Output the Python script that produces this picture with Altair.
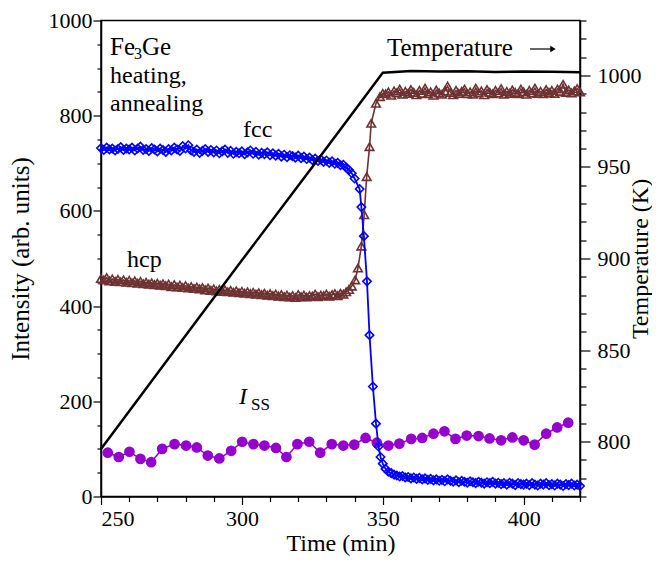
import altair as alt
import pandas as pd

SERIF = "Liberation Serif"

# ---------------- data ----------------
fcc_time = list(range(250, 341)) + [341.8, 342.4, 343.3, 344.4, 345.3, 346.5, 347.6, 348.5, 349.2, 350.0] + list(range(351, 421))
fcc_int = [
    732, 728, 733, 729, 731, 727, 730, 734, 728, 731,
    729, 733, 727, 731, 735, 728, 730, 726, 732, 729,
    725, 731, 728, 724, 730, 727, 733, 729, 726, 736,
    731, 738, 727, 724, 729, 722, 726, 730, 724, 728,
    723, 727, 721, 725, 729, 722, 726, 720, 724, 721,
    725, 719, 723, 727, 720, 724, 718, 722, 719, 723,
    717, 721, 716, 720, 714, 718, 713, 717, 715, 712,
    716, 711, 714, 709, 712, 707, 710, 705, 708, 703,
    706, 701, 704, 699, 701, 696, 697, 691, 686, 679, 668,
    646, 608, 547, 452, 339, 231, 153, 105, 83, 69,
    58, 52, 49, 46, 44, 42, 43, 40, 41, 38,
    40, 37, 39, 36, 38, 35, 37, 34, 36, 33,
    35, 32, 36, 33, 31, 34, 30, 33, 31, 29,
    32, 30, 28, 31, 29, 27, 30, 28, 31, 27,
    29, 26, 28, 25, 29, 27, 24, 28, 26, 25,
    27, 24, 28, 25, 23, 27, 25, 28, 24, 26,
    23, 27, 25, 22, 26, 24, 27, 23, 25, 22,
]

hcp_time = list(range(250, 340)) + [340.2, 341.2, 342.4, 343.4, 344.3, 345.3, 345.9, 347.6, 349.0, 350.0] + list(range(351, 421))
hcp_int = [
    458, 455, 460, 453, 457, 452, 456, 451, 455, 450,
    454, 449, 453, 448, 452, 447, 450, 446, 449, 445,
    448, 444, 447, 443, 446, 441, 445, 440, 444, 439,
    443, 438, 441, 437, 440, 436, 439, 434, 438, 433,
    436, 432, 435, 431, 434, 430, 433, 429, 432, 428,
    431, 427, 430, 426, 429, 425, 428, 424, 427, 423,
    426, 422, 425, 421, 424, 420, 423, 419, 422, 418,
    424, 420, 423, 419, 422, 421, 425, 420, 423, 422,
    425, 421, 424, 426, 422, 427, 425, 430, 435, 442,
    455, 480, 526, 592, 672, 735, 784, 826, 840, 847,
    846, 850, 843, 852, 848, 856, 845, 851, 847, 855,
    849, 844, 853, 847, 858, 846, 850, 843, 854, 848,
    845, 852, 862, 849, 844, 853, 847, 851, 856, 846,
    850, 845, 858, 848, 852, 844, 855, 849, 846, 853,
    848, 857, 845, 851, 847, 854, 849, 846, 856, 850,
    845, 853, 848, 858, 847, 851, 846, 855, 849, 853,
    847, 856, 851, 866, 849, 854, 848, 852, 857, 850,
]

iss_time = [252.4, 256.3, 260.1, 264.0, 267.8, 271.7, 276.1, 280.2, 284.0, 287.9,
            292.0, 296.2, 300.1, 304.1, 308.0, 312.1, 315.8, 319.7, 323.9, 327.8,
            331.9, 336.0, 339.9, 343.9, 347.9, 352.0, 355.9, 360.1, 364.0, 368.0,
            371.9, 375.8, 379.8, 384.0, 387.9, 392.0, 396.0, 400.0, 403.9, 408.0,
            411.9, 415.8]
iss_int = [92, 83, 94, 79, 72, 100, 110, 107, 103, 86,
           80, 96, 115, 110, 107, 102, 83, 110, 115, 92,
           110, 107, 109, 123, 113, 107, 111, 121, 123, 132,
           137, 121, 128, 127, 122, 118, 124, 118, 109, 132,
           145, 155]

temp_time = [250, 275, 300, 325, 350, 360, 370, 380, 390, 400, 410, 420]
temp_K = [796, 847.5, 899, 950, 1001.5, 1002.4, 1002.1, 1002.3, 1001.9, 1002.2, 1002.0, 1001.8]

fcc_df = pd.DataFrame({"t": fcc_time, "v": fcc_int})
hcp_df = pd.DataFrame({"t": hcp_time, "v": hcp_int})
iss_df = pd.DataFrame({"t": iss_time, "v": iss_int})
temp_df = pd.DataFrame({"t": temp_time, "T": temp_K})
dummy = pd.DataFrame({"d": [0]})

# ---------------- layout ----------------
PL, PT = 101, 20.5          # plot origin in page coordinates
W, H = 479, 476

x_enc = alt.X(
    "t:Q",
    scale=alt.Scale(domain=[250, 420], nice=False, zero=False),
    axis=alt.Axis(
        values=list(range(250, 421, 10)), format="d",
        labelExpr="datum.value % 50 === 0 ? datum.label : ''",
        tickSize={"condition": {"test": "datum.value % 50 === 0", "value": 8}, "value": 5},
        labelPadding=4, labelFontSize=22, title="Time (min)", titleFontSize=24,
        titleX=W / 2, titleY=47, titleBaseline="middle", titleAlign="center",
    ),
)
y_enc = alt.Y(
    "v:Q",
    scale=alt.Scale(domain=[0, 1000], nice=False),
    axis=alt.Axis(
        values=list(range(0, 1001, 50)), format="d",
        labelExpr="datum.value % 200 === 0 ? datum.label : ''",
        tickSize={"condition": {"test": "datum.value % 200 === 0", "value": 8}, "value": 4},
        labelPadding=1, labelFontSize=22, title="Intensity (arb. units)", titleFontSize=25,
        titleAngle=270, titleX=20 - PL, titleY=H / 2, titleBaseline="middle", titleAlign="center",
    ),
)
yT_enc = alt.Y(
    "T:Q",
    scale=alt.Scale(domain=[770, 1030], nice=False, zero=False),
    axis=alt.Axis(
        orient="right",
        values=list(range(770, 1031, 10)), format="d",
        labelExpr="datum.value % 50 === 0 ? datum.label : ''",
        tickSize={"condition": {"test": "datum.value % 50 === 0", "value": 10}, "value": 6},
        labelPadding=7, labelFontSize=22, title="Temperature (K)", titleFontSize=24,
        titleAngle=270, titleX=640 - (PL + W), titleY=H / 2, titleBaseline="middle", titleAlign="center",
    ),
)

BLUE = "#0000ff"
BROWN = "#6e3232"
PURPLE = "#9400cc"

iss_line = alt.Chart(iss_df).mark_line(color=PURPLE, strokeWidth=1.5).encode(x=x_enc, y=y_enc)
iss_pts = alt.Chart(iss_df).mark_point(shape="circle", filled=True, color=PURPLE, size=115, opacity=1).encode(x=x_enc, y=y_enc)
hcp_line = alt.Chart(hcp_df).mark_line(color=BROWN, strokeWidth=1.6).encode(x=x_enc, y=y_enc)
hcp_pts = alt.Chart(hcp_df).mark_point(shape="triangle-up", filled=False, color=BROWN, size=75, strokeWidth=1.6, opacity=1).encode(x=x_enc, y=y_enc)
fcc_line = alt.Chart(fcc_df).mark_line(color=BLUE, strokeWidth=1.8).encode(x=x_enc, y=y_enc)
fcc_pts = alt.Chart(fcc_df).mark_point(shape="diamond", filled=False, color=BLUE, size=70, strokeWidth=1.6, opacity=1).encode(x=x_enc, y=y_enc)

left = alt.layer(iss_line, iss_pts, hcp_line, hcp_pts, fcc_line, fcc_pts)
temp = alt.Chart(temp_df).mark_line(color="black", strokeWidth=2.5).encode(x=x_enc, y=yT_enc)


def label(txt, x, y, size=24, style="normal"):
    return alt.Chart(dummy).mark_text(
        text=txt, font=SERIF, fontSize=size, fontStyle=style, align="left",
        baseline="alphabetic", color="black",
    ).encode(x=alt.value(x - PL), y=alt.value(y - PT))


texts = [
    label("Fe", 110, 55, size=25),
    label("3", 134, 59, size=16),
    label("Ge", 142, 55, size=25),
    label("heating,", 110, 83),
    label("annealing", 110, 111),
    label("fcc", 243, 137),
    label("hcp", 127, 267),
    label("I", 239, 404, style="italic"),
    label("SS", 251, 410, size=17),
    label("Temperature", 387, 56, size=25),
]
arrow_line = alt.Chart(dummy).mark_rule(color="black", strokeWidth=1.2).encode(
    x=alt.value(530 - PL), x2=alt.value(551 - PL), y=alt.value(49 - PT))
arrow_head = alt.Chart(dummy).mark_point(shape="triangle-right", filled=True, color="black", size=40, opacity=1).encode(
    x=alt.value(553 - PL), y=alt.value(49 - PT))

chart = alt.layer(left, temp, *texts, arrow_line, arrow_head).resolve_scale(y="independent").properties(
    width=W, height=H,
    autosize=alt.AutoSizeParams(type="none"),
    padding={"left": PL - 8, "top": PT - 8, "right": 72, "bottom": 59.5},
).configure_view(stroke="black", strokeWidth=1.5).configure_axis(
    domainColor="black", domainWidth=1.5, tickColor="black", tickWidth=1.2,
    labelColor="black", titleColor="black", grid=False,
    labelFont=SERIF, titleFont=SERIF, titleFontWeight="normal",
)

chart.save("out.html", embed_options={"renderer": "svg", "actions": False})
